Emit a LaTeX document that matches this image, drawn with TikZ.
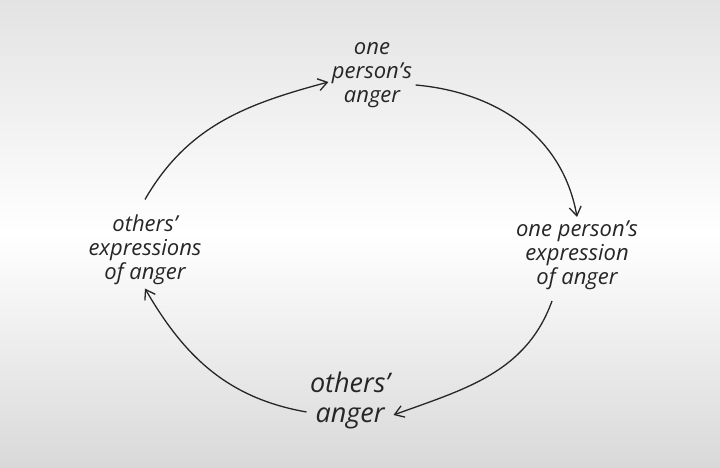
\documentclass[tikz,border=0pt]{standalone}
\usepackage{fontspec}
\setmainfont{Open Sans}
\usetikzlibrary{arrows.meta}
\begin{document}
\begin{tikzpicture}[x=1pt,y=1pt,
  lbl/.style={align=center,font=\fontsize{22}{24}\selectfont\itshape,text=black!85},
  arr/.style={line width=1.3pt,black!85,-{Straight Barb[length=9pt,width=12pt]}}]
\shade[top color=gray!22,bottom color=gray!30,middle color=white] (0,0) rectangle (720,468);
\useasboundingbox (0,0) rectangle (720,468);
\node[lbl] (top) at (372,393) {one\\person's\\anger};
\node[lbl] (right) at (577,213) {one person's\\expression\\of anger};
\node[lbl,font=\fontsize{27}{30}\selectfont\itshape] (bot) at (350,68) {others'\\anger};
\node[lbl] (left) at (145,218) {others'\\expressions\\of anger};
\draw[arr] (left.north) ++(0,12) to[out=60,in=195] (top.west |- 0,386);
\draw[arr] (top.east |- 0,383) to[out=-5,in=100] (right.north);
\draw[arr] (right.south) ++(-25,-8) to[out=-110,in=20] (bot.east |- 0,53);
\draw[arr] (bot.west |- 0,56) to[out=170,in=-60] (left.south);
\end{tikzpicture}
\end{document}
